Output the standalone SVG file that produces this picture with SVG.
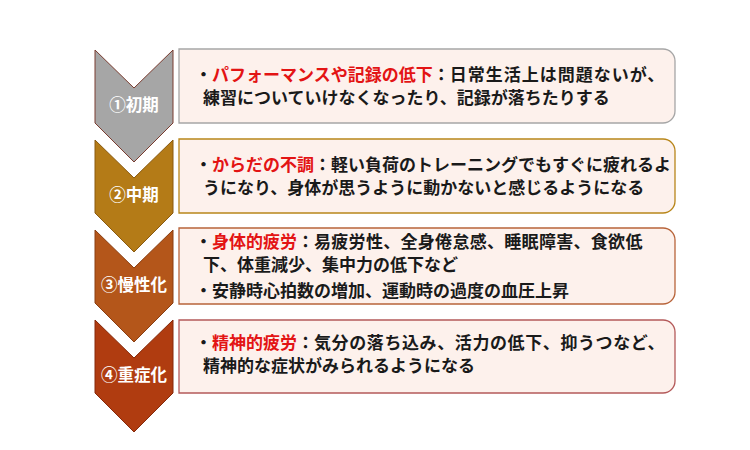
<svg xmlns="http://www.w3.org/2000/svg" width="750" height="450" viewBox="0 0 750 450">
<style>
.t{font-family:"Noto Sans CJK JP","Noto Sans CJK SC",sans-serif;font-weight:bold;font-size:17px;fill:#1a1a1a}
.r{fill:#e31414}
.lab{font-family:"Noto Sans CJK JP","Noto Sans CJK SC",sans-serif;font-weight:bold;font-size:16.5px;fill:#ffffff;text-anchor:middle}
.box{fill:#fdf1ec;stroke-width:1.3}
.chev{stroke-width:1}
</style>
<rect width="750" height="450" fill="#ffffff"/>
<g id="stage1">
<path class="chev" d="M95,50 L134,88 L173,50 L173,123 L134,162 L95,123 Z" fill="#a6a6a6" stroke="#7a3c30"/>
<text class="lab" x="134" y="111">①初期</text>
<path class="box" d="M179,49 H663 A12,12 0 0 1 675,61 V111 A12,12 0 0 1 663,123 H179 Z" stroke="#a6a6a6"/>
<text class="t" x="195" y="81">・<tspan class="r">パフォーマンスや記録の低下</tspan>：<tspan letter-spacing="1">日常生活上は問題ないが、</tspan></text>
<text class="t" x="203" y="104">練習についていけなくなったり、記録が落ちたりする</text>
</g>
<g id="stage2">
<path class="chev" d="M95,140 L134,178 L173,140 L173,213 L134,252 L95,213 Z" fill="#b47b17" stroke="#8a5a10"/>
<text class="lab" x="134" y="201">②中期</text>
<path class="box" d="M179,139 H663 A12,12 0 0 1 675,151 V201 A12,12 0 0 1 663,213 H179 Z" stroke="#b8861a"/>
<text class="t" x="195" y="171">・<tspan class="r">からだの不調</tspan>：軽い負荷のトレーニングでもすぐに疲れるよ</text>
<text class="t" x="203" y="194">うになり、身体が思うように動かないと感じるようになる</text>
</g>
<g id="stage3">
<path class="chev" d="M95,230 L134,268 L173,230 L173,303 L134,342 L95,303 Z" fill="#b4561a" stroke="#8a3e12"/>
<text class="lab" x="134" y="291">③慢性化</text>
<path class="box" d="M179,228 H663 A12,12 0 0 1 675,240 V292 A12,12 0 0 1 663,304 H179 Z" stroke="#b8643a"/>
<text class="t" x="195" y="248">・<tspan class="r">身体的疲労</tspan>：<tspan letter-spacing="0.3">易疲労性、全身倦怠感、睡眠障害、食欲低</tspan></text>
<text class="t" x="203" y="271">下、体重減少、集中力の低下など</text>
<text class="t" x="195" y="297">・安静時心拍数の増加、運動時の過度の血圧上昇</text>
</g>
<g id="stage4">
<path class="chev" d="M95,320 L134,358 L173,320 L173,393 L134,432 L95,393 Z" fill="#b03c10" stroke="#86290a"/>
<text class="lab" x="134" y="381">④重症化</text>
<path class="box" d="M179,320 H663 A12,12 0 0 1 675,332 V381 A12,12 0 0 1 663,393 H179 Z" stroke="#b45a5a"/>
<text class="t" x="195" y="349">・<tspan class="r">精神的疲労</tspan>：<tspan letter-spacing="0.6">気分の落ち込み、活力の低下、抑うつなど、</tspan></text>
<text class="t" x="203" y="372">精神的な症状がみられるようになる</text>
</g>
<g id="connectors"></g>
</svg>
